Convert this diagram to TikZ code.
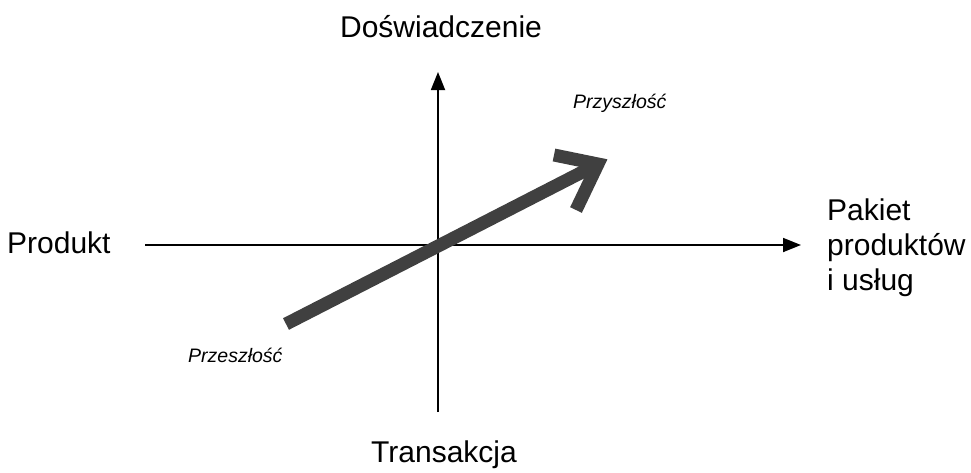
\documentclass[tikz,border=0pt]{standalone}
\usepackage{fontspec}
\setmainfont{Liberation Sans}
\usetikzlibrary{arrows.meta}
\begin{document}
\begin{tikzpicture}[x=1pt,y=-1pt,
  big/.style={font=\fontsize{30}{35}\selectfont, inner sep=0pt},
  small/.style={font=\fontsize{19.5}{23}\selectfont\itshape, inner sep=0pt},
  axis/.style={line width=1.8pt, -{Triangle[length=18pt,width=14pt]}},
  trend/.style={line width=13pt, draw=black!75}]
\useasboundingbox (0,0) rectangle (971,472);
% axes
\coordinate (vb) at (438,412);
\coordinate (vt) at (438,72);
\coordinate (hl) at (145,245);
\coordinate (hr) at (801,245);
\draw[axis] (vb) -- (vt);
\draw[axis] (hl) -- (hr);
% trend arrow
\coordinate (s) at (286,324);
\coordinate (t) at (598,164);
\coordinate (a1) at (554,155);
\coordinate (a2) at (576,210);
\draw[trend, line cap=butt] (s) -- (t);
\draw[trend, line join=miter, line cap=butt] (a1) -- (t) -- (a2);
% labels
\node[big, anchor=base] (dos) at (441,37) {Doświadczenie};
\node[big, anchor=base] (tra) at (444,462) {Transakcja};
\node[big, anchor=base west] (pro) at (7,253) {Produkt};
\node[big, anchor=base west] (pak1) at (827,220) {Pakiet};
\node[big, anchor=base west] (pak2) at (827,255) {produktów};
\node[big, anchor=base west] (pak3) at (827,290) {i usług};
\node[small, anchor=base west] (prz) at (188,362) {Przeszłość};
\node[small, anchor=base west] (przy) at (573,108) {Przyszłość};
\end{tikzpicture}
\end{document}
